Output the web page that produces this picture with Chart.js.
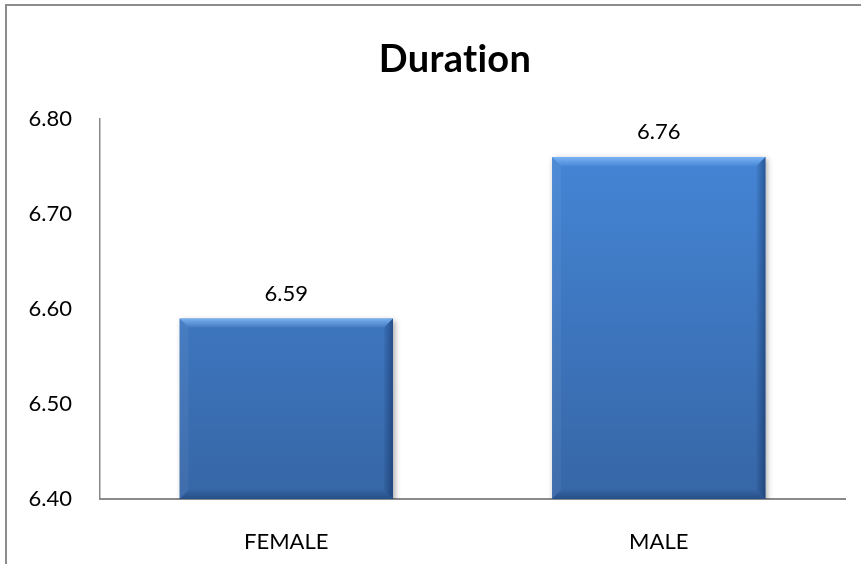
<!DOCTYPE html>
<html>
<head>
<meta charset="utf-8">
<script src="https://cdn.jsdelivr.net/npm/chart.js@4.4.1/dist/chart.umd.min.js"></script>
<style>
  html, body { margin: 0; padding: 0; background: #ffffff; }
  #wrap { position: relative; width: 861px; height: 564px; }
</style>
</head>
<body>
<div id="wrap"><canvas id="chart" width="861" height="564"></canvas></div>
<script>
// Average duration by gender
const chartTitle = 'Duration';
const categories = ['FEMALE', 'MALE'];
const durations = [6.59, 6.76];
const yTicks = [6.40, 6.50, 6.60, 6.70, 6.80];

const FONT = 'Lato, "Open Sans", "Liberation Sans", sans-serif';
const AXIS_GRAY = '#8a8a8a';

// Outer frame and the heading
const framePlugin = {
  id: 'frame',
  beforeDraw(chart) {
    const ctx = chart.ctx;
    ctx.save();
    ctx.strokeStyle = '#8c8c8c';
    ctx.lineWidth = 2;
    ctx.strokeRect(6, 5, 900, 620);
    ctx.fillStyle = '#000000';
    ctx.font = 'bold 38px ' + FONT;
    ctx.textAlign = 'center';
    ctx.textBaseline = 'alphabetic';
    // keep "t" and "i" as separate glyphs
    if ('textRendering' in ctx) ctx.textRendering = 'optimizeSpeed';
    if ('letterSpacing' in ctx) ctx.letterSpacing = '0.3px';
    ctx.fillText(chartTitle, 455, 72);
    ctx.restore();
  }
};

// Soft drop shadow under the bars
const shadowPlugin = {
  id: 'barShadow',
  beforeDatasetDraw(chart) {
    const ctx = chart.ctx;
    ctx.save();
    ctx.shadowColor = 'rgba(0,0,0,0.35)';
    ctx.shadowBlur = 6;
    ctx.shadowOffsetX = 2;
    ctx.shadowOffsetY = 2;
  },
  afterDatasetDraw(chart) {
    chart.ctx.restore();
  }
};

// Bevelled edges on each bar plus the value label above it
const bevelPlugin = {
  id: 'bevel',
  afterDatasetsDraw(chart) {
    const ctx = chart.ctx;
    const area = chart.chartArea;
    const meta = chart.getDatasetMeta(0);
    meta.data.forEach((bar, i) => {
      const p = bar.getProps(['x', 'y', 'base', 'width'], true);
      const l = p.x - p.width / 2, r = p.x + p.width / 2;
      const t = p.y, b = Math.min(p.base, area.bottom);
      const e = 9;
      ctx.save();
      // top
      const gTop = ctx.createLinearGradient(0, t, 0, t + e);
      gTop.addColorStop(0, 'rgba(140,195,255,0.75)');
      gTop.addColorStop(1, 'rgba(140,195,255,0.08)');
      ctx.fillStyle = gTop;
      ctx.beginPath();
      ctx.moveTo(l, t); ctx.lineTo(r, t); ctx.lineTo(r - e, t + e); ctx.lineTo(l + e, t + e);
      ctx.closePath(); ctx.fill();
      // left
      ctx.fillStyle = 'rgba(255,255,255,0.05)';
      ctx.beginPath();
      ctx.moveTo(l, t); ctx.lineTo(l + e, t + e); ctx.lineTo(l + e, b - e); ctx.lineTo(l, b);
      ctx.closePath(); ctx.fill();
      // right
      const gR = ctx.createLinearGradient(r - e, 0, r, 0);
      gR.addColorStop(0, 'rgba(0,20,60,0.05)');
      gR.addColorStop(1, 'rgba(0,20,60,0.40)');
      ctx.fillStyle = gR;
      ctx.beginPath();
      ctx.moveTo(r, t); ctx.lineTo(r, b); ctx.lineTo(r - e, b - e); ctx.lineTo(r - e, t + e);
      ctx.closePath(); ctx.fill();
      // bottom
      const gB = ctx.createLinearGradient(0, b - e, 0, b);
      gB.addColorStop(0, 'rgba(0,20,60,0.03)');
      gB.addColorStop(1, 'rgba(0,20,60,0.28)');
      ctx.fillStyle = gB;
      ctx.beginPath();
      ctx.moveTo(l, b); ctx.lineTo(r, b); ctx.lineTo(r - e, b - e); ctx.lineTo(l + e, b - e);
      ctx.closePath(); ctx.fill();
      ctx.restore();

      // value label
      ctx.save();
      ctx.fillStyle = '#000000';
      ctx.font = '22px ' + FONT;
      ctx.textAlign = 'center';
      ctx.textBaseline = 'alphabetic';
      ctx.fillText(durations[i].toFixed(2), p.x, t - 18);
      ctx.restore();
    });
  }
};

const ctx = document.getElementById('chart').getContext('2d');
new Chart(ctx, {
  type: 'bar',
  data: {
    labels: categories,
    datasets: [{
      data: durations,
      backgroundColor(c) {
        const area = c.chart.chartArea;
        if (!area) return '#3f7cc9';
        const g = c.chart.ctx.createLinearGradient(0, area.top, 0, area.bottom);
        g.addColorStop(0, '#4688da');
        g.addColorStop(1, '#3666a6');
        return g;
      },
      borderWidth: 0,
      categoryPercentage: 1.0,
      barPercentage: 0.573
    }]
  },
  options: {
    responsive: false,
    animation: false,
    events: [],
    layout: { padding: { left: 0, right: 16, top: 119, bottom: 0 } },
    plugins: {
      legend: { display: false },
      tooltip: { enabled: false },
      title: { display: false }
    },
    scales: {
      x: {
        grid: { display: false },
        border: { display: true, color: AXIS_GRAY, width: 2 },
        ticks: { color: '#000000', font: { family: FONT, size: 22 }, padding: 22 },
        afterFit(scale) { scale.height = 65; }
      },
      y: {
        min: 6.40,
        max: 6.80,
        afterBuildTicks(scale) { scale.ticks = yTicks.map(v => ({ value: v })); },
        grid: { display: false, drawTicks: false },
        border: { display: true, color: AXIS_GRAY, width: 1.5 },
        ticks: {
          color: '#000000',
          font: { family: FONT, size: 22 },
          padding: 28,
          callback(v) { return Number(v).toFixed(2); }
        },
        afterFit(scale) { scale.width = 100; }
      }
    }
  },
  plugins: [framePlugin, shadowPlugin, bevelPlugin]
});
</script>
</body>
</html>
